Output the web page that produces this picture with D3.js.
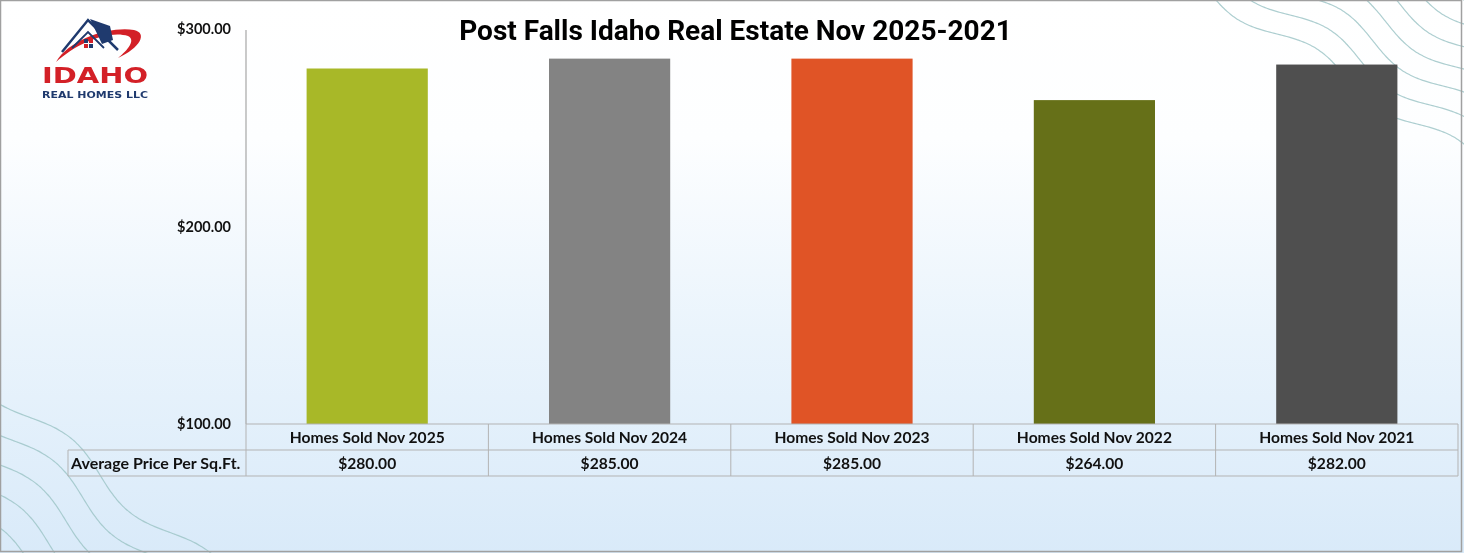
<!DOCTYPE html>
<html>
<head>
<meta charset="utf-8">
<script src="https://cdn.jsdelivr.net/npm/d3@7"></script>
<style>
html,body{margin:0;padding:0;background:#fff;}
svg{display:block;}
</style>
</head>
<body>
<svg id="chart" width="1464" height="553"></svg>
<script>
const categories = ["Homes Sold Nov 2025","Homes Sold Nov 2024","Homes Sold Nov 2023","Homes Sold Nov 2022","Homes Sold Nov 2021"];
const values = [280, 285, 285, 264, 282];
const barColors = ["#a8b828","#838383","#e05426","#667018","#4f4f4f"];
const yTicks = [100, 200, 300];
const seriesName = "Average Price Per Sq.Ft.";
const title = "Post Falls Idaho Real Estate Nov 2025-2021";

(function(){
const W = 1464, H = 553;
const svg = d3.select("#chart");
const defs = svg.append("defs");
const grad = defs.append("linearGradient").attr("id","bg").attr("x1",0).attr("y1",0).attr("x2",0).attr("y2",1);
grad.append("stop").attr("offset","0%").attr("stop-color","#ffffff");
grad.append("stop").attr("offset","25%").attr("stop-color","#fdfeff");
grad.append("stop").attr("offset","60%").attr("stop-color","#eaf4fc");
grad.append("stop").attr("offset","100%").attr("stop-color","#d9eaf9");
svg.append("rect").attr("x",0).attr("y",0).attr("width",W).attr("height",H).attr("fill","url(#bg)");
defs.append("clipPath").attr("id","clipAll").append("rect").attr("x",0).attr("y",0).attr("width",W).attr("height",H);

// decorative waves (parallel copies of a base wavy curve)
const waves = svg.append("g").attr("clip-path","url(#clipAll)").attr("fill","none")
  .attr("stroke","#9fc6c8").attr("stroke-width",1.2).attr("opacity",0.85);
function wavePath(x0,y0,x1,y1,amp,nWaves){
  const pts=[]; const N=140;
  const dx=x1-x0, dy=y1-y0, L=Math.hypot(dx,dy);
  const nx=-dy/L, ny=dx/L;
  for(let i=0;i<=N;i++){
    const t=i/N; const s=Math.sin(t*Math.PI*2*nWaves)*amp;
    pts.push([x0+dx*t+nx*s, y0+dy*t+ny*s]);
  }
  return d3.line().curve(d3.curveBasis)(pts);
}
const trBase = wavePath(1220, -30, 1500, 150, 9, 2.0);
for(let i=-1;i<7;i++){
  waves.append("path").attr("d", trBase).attr("transform",`translate(${i*13},${-i*19})`);
}
const blBase = wavePath(-40, 360, 240, 590, 10, 2.0);
for(let i=0;i<7;i++){
  waves.append("path").attr("d", blBase).attr("transform",`translate(${-i*17},${i*23})`);
}

// border
svg.append("rect").attr("x",0.5).attr("y",0.5).attr("width",W-3).attr("height",H-2)
  .attr("fill","none").attr("stroke","#a0a0a0").attr("stroke-width",1.5);

const pLeft = 246, pRight = 1458, pTop = 29, pBottom = 424;
const x = d3.scaleBand().domain(categories).range([pLeft,pRight]).paddingInner(0).paddingOuter(0);
const y = d3.scaleLinear().domain([100,300]).range([pBottom, pTop]);
const fmt = v => "$" + d3.format(",.2f")(v);

// bars
svg.append("g").selectAll("rect").data(values).join("rect")
  .attr("x",(d,i)=>x(categories[i]) + x.bandwidth()*0.25)
  .attr("width", x.bandwidth()*0.5)
  .attr("y", d=>y(d))
  .attr("height", d=>y(100)-y(d))
  .attr("fill",(d,i)=>barColors[i]);

// y axis
const yAxis = d3.axisLeft(y).tickValues(yTicks).tickFormat(fmt).tickSize(0).tickPadding(15);
const ga = svg.append("g").attr("transform",`translate(${pLeft},0)`).call(yAxis);
ga.select(".domain").attr("stroke","#a6a6a6").attr("stroke-width",1.2).attr("d",`M0,${pTop+1}V${pBottom}`);
ga.selectAll("text").attr("font-family","Lato, 'Open Sans', sans-serif").attr("font-weight",700)
  .attr("font-size",14.5).attr("fill","#111");

// data table
const rowH = 26, r1 = pBottom, r2 = pBottom+rowH, r3 = pBottom+2*rowH, labelLeft = 68;
const tbl = svg.append("g").attr("stroke","#b3b3b3").attr("stroke-width",1).attr("fill","none");
tbl.append("line").attr("x1",pLeft).attr("x2",pRight).attr("y1",r1).attr("y2",r1);
tbl.append("line").attr("x1",labelLeft).attr("x2",pRight).attr("y1",r2).attr("y2",r2);
tbl.append("line").attr("x1",labelLeft).attr("x2",pRight).attr("y1",r3).attr("y2",r3);
tbl.append("line").attr("x1",labelLeft).attr("x2",labelLeft).attr("y1",r2).attr("y2",r3);
categories.forEach(c=>{
  tbl.append("line").attr("x1",x(c)).attr("x2",x(c)).attr("y1",r1).attr("y2",r3);
});
tbl.append("line").attr("x1",pRight).attr("x2",pRight).attr("y1",r1).attr("y2",r3);

const tt = svg.append("g").attr("font-family","Lato, 'Open Sans', sans-serif").attr("font-weight",700)
  .attr("font-size",15.6).attr("fill","#111").attr("text-anchor","middle");
categories.forEach((c,i)=>{
  tt.append("text").attr("x",x(c)+x.bandwidth()/2).attr("y",r1+rowH/2).attr("dy","0.36em").text(c);
  tt.append("text").attr("x",x(c)+x.bandwidth()/2).attr("y",r2+rowH/2).attr("dy","0.36em").text(fmt(values[i]));
});
tt.append("text").attr("x",labelLeft+3).attr("text-anchor","start").attr("y",r2+rowH/2).attr("dy","0.36em")
  .attr("font-size",16).text(seriesName);

// title
svg.append("text").attr("x",735.5).attr("y",30).attr("dy","0.36em").attr("text-anchor","middle")
  .attr("font-family","Roboto, 'Open Sans', sans-serif").attr("font-weight",700).attr("font-size",28)
  .attr("fill","#000").text(title);

// logo
const lg = svg.append("g");
lg.append("path").attr("d","M56,62 C70,38 112,26 134,30 C148,33 140,48 118,58 C128,50 136,40 128,36 C110,30 78,42 56,62 Z").attr("fill","#d32027");
lg.append("path").attr("d","M62,52 L88,20 L118,50").attr("fill","none").attr("stroke","#1f3a6e").attr("stroke-width",2.5);
lg.append("path").attr("d","M72,48 L88,32 L104,48").attr("fill","none").attr("stroke","#1f3a6e").attr("stroke-width",1.8);
lg.append("path").attr("d","M90,19 L110,26 L113,40 L102,44 Z").attr("fill","#1f3a6e");
lg.append("rect").attr("x",84).attr("y",39).attr("width",4).attr("height",4).attr("fill","#1f3a6e");
lg.append("rect").attr("x",89).attr("y",39).attr("width",4).attr("height",4).attr("fill","#d32027");
lg.append("rect").attr("x",84).attr("y",44).attr("width",4).attr("height",4).attr("fill","#d32027");
lg.append("rect").attr("x",89).attr("y",44).attr("width",4).attr("height",4).attr("fill","#1f3a6e");
lg.append("text").attr("x",95).attr("y",83).attr("text-anchor","middle")
  .attr("font-family","'DejaVu Sans', sans-serif").attr("font-weight",700).attr("font-size",22)
  .attr("fill","#d32027").attr("textLength",106).attr("lengthAdjust","spacingAndGlyphs").text("IDAHO");
lg.append("text").attr("x",95).attr("y",98).attr("text-anchor","middle")
  .attr("font-family","'DejaVu Sans', sans-serif").attr("font-weight",700).attr("font-size",9.5)
  .attr("fill","#1f3a6e").attr("textLength",106).attr("lengthAdjust","spacingAndGlyphs").text("REAL HOMES LLC");
})();
</script>
</body>
</html>
